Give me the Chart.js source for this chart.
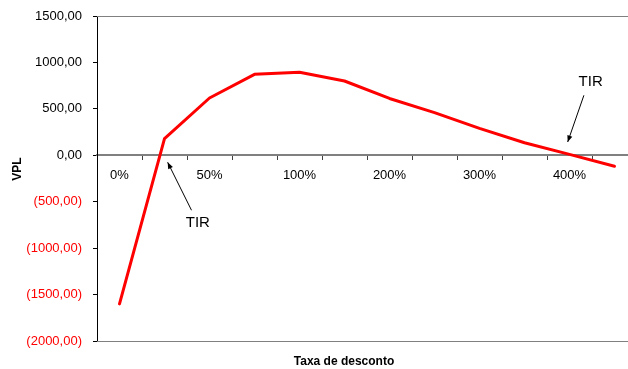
<!DOCTYPE html>
<html>
<head>
<meta charset="utf-8">
<script src="https://cdn.jsdelivr.net/npm/chart.js@4.4.1/dist/chart.umd.min.js"></script>
<style>
  html, body { margin: 0; padding: 0; background: #fff; overflow: hidden; }
  #wrap { width: 640px; height: 369px; }
</style>
</head>
<body>
<div id="wrap"><canvas id="c" width="640" height="369"></canvas></div>
<script>
// Discount rates (categories) and net present value at each rate
const taxas = ['0%', '25%', '50%', '75%', '100%', '150%', '200%', '250%', '300%', '350%', '400%', '450%'];
const vpl = [-1600, 180, 617, 872, 894, 800, 612, 460, 290, 135, 10, -118];
// Y axis range and step
const yMin = -2000, yMax = 1500, yStep = 500;

const FONT = 'Arial, "Liberation Sans", sans-serif';

function fmtVPL(v) {
  const s = Math.abs(v).toFixed(2).replace('.', ',');
  return v < 0 ? '(' + s + ')' : s;
}

// Frame lines, axis titles and the two "TIR" callouts
const extras = {
  id: 'extras',
  afterDraw(chart) {
    const { ctx, chartArea: a, scales: { x, y } } = chart;
    ctx.save();
    ctx.strokeStyle = '#808080';
    ctx.lineWidth = 1;
    ctx.beginPath();
    ctx.moveTo(a.left, a.top + 0.5); ctx.lineTo(a.right, a.top + 0.5);
    ctx.moveTo(a.left, a.bottom + 0.5); ctx.lineTo(a.right, a.bottom + 0.5);
    ctx.stroke();

    // axis titles
    ctx.fillStyle = '#000';
    ctx.font = 'bold 12px ' + FONT;
    ctx.textAlign = 'center';
    ctx.textBaseline = 'middle';
    ctx.fillText('Taxa de desconto', 344, 362);
    ctx.save();
    ctx.translate(18, 169);
    ctx.rotate(-Math.PI / 2);
    ctx.fillText('VPL', 0, 0);
    ctx.restore();

    // callouts: [tip index, tip value, tail index, tail value, text index, text value]
    const callouts = [
      [1.07, -75, 1.60, -592, 1.74, -730],
      [9.96, 143, 10.32, 646, 10.47, 790]
    ];
    ctx.strokeStyle = '#000';
    ctx.fillStyle = '#000';
    ctx.lineWidth = 1;
    ctx.font = '15px ' + FONT;
    callouts.forEach(([ti, tv, si, sv, xi, xv]) => {
      const tx = x.getPixelForValue(ti), ty = y.getPixelForValue(tv);
      const sx = x.getPixelForValue(si), sy = y.getPixelForValue(sv);
      ctx.beginPath();
      ctx.moveTo(sx, sy); ctx.lineTo(tx, ty);
      ctx.stroke();
      const ang = Math.atan2(ty - sy, tx - sx);
      const L = 7, W = 0.38;
      ctx.beginPath();
      ctx.moveTo(tx, ty);
      ctx.lineTo(tx - L * Math.cos(ang - W), ty - L * Math.sin(ang - W));
      ctx.lineTo(tx - L * Math.cos(ang + W), ty - L * Math.sin(ang + W));
      ctx.closePath();
      ctx.fill();
      ctx.fillText('TIR', x.getPixelForValue(xi), y.getPixelForValue(xv));
    });
    ctx.restore();
  }
};

new Chart(document.getElementById('c'), {
  type: 'line',
  data: {
    labels: taxas,
    datasets: [{
      data: vpl,
      borderColor: '#FF0000',
      borderWidth: 3,
      borderJoinStyle: 'round',
      borderCapStyle: 'round',
      pointRadius: 0,
      tension: 0,
      fill: false
    }]
  },
  options: {
    responsive: false,
    animation: false,
    events: [],
    layout: { padding: { top: 16, right: 3, bottom: 28, left: 0 } },
    plugins: { legend: { display: false }, tooltip: { enabled: false } },
    scales: {
      x: {
        type: 'category',
        position: { y: 0 },
        offset: true,
        grid: {
          offset: true,
          drawOnChartArea: false,
          drawTicks: true,
          tickLength: 4,
          color: '#404040'
        },
        border: { display: true, color: '#808080', width: 2 },
        ticks: {
          autoSkip: false,
          maxRotation: 0,
          padding: 8,
          color: '#000',
          font: { family: FONT, size: 13 },
          callback: (v, i) => (i % 2 === 0 ? taxas[i] : '')
        }
      },
      y: {
        min: yMin,
        max: yMax,
        afterFit: s => { s.width = 97; s.paddingTop = 0; s.paddingBottom = 0; },
        grid: {
          drawOnChartArea: false,
          drawTicks: true,
          tickLength: 4,
          color: '#000'
        },
        border: { display: true, color: '#000', width: 1 },
        ticks: {
          stepSize: yStep,
          padding: 11,
          font: { family: FONT, size: 13 },
          color: c => (c.tick && c.tick.value < 0 ? '#FF0000' : '#000'),
          callback: v => fmtVPL(v)
        }
      }
    }
  },
  plugins: [extras]
});
</script>
</body>
</html>
